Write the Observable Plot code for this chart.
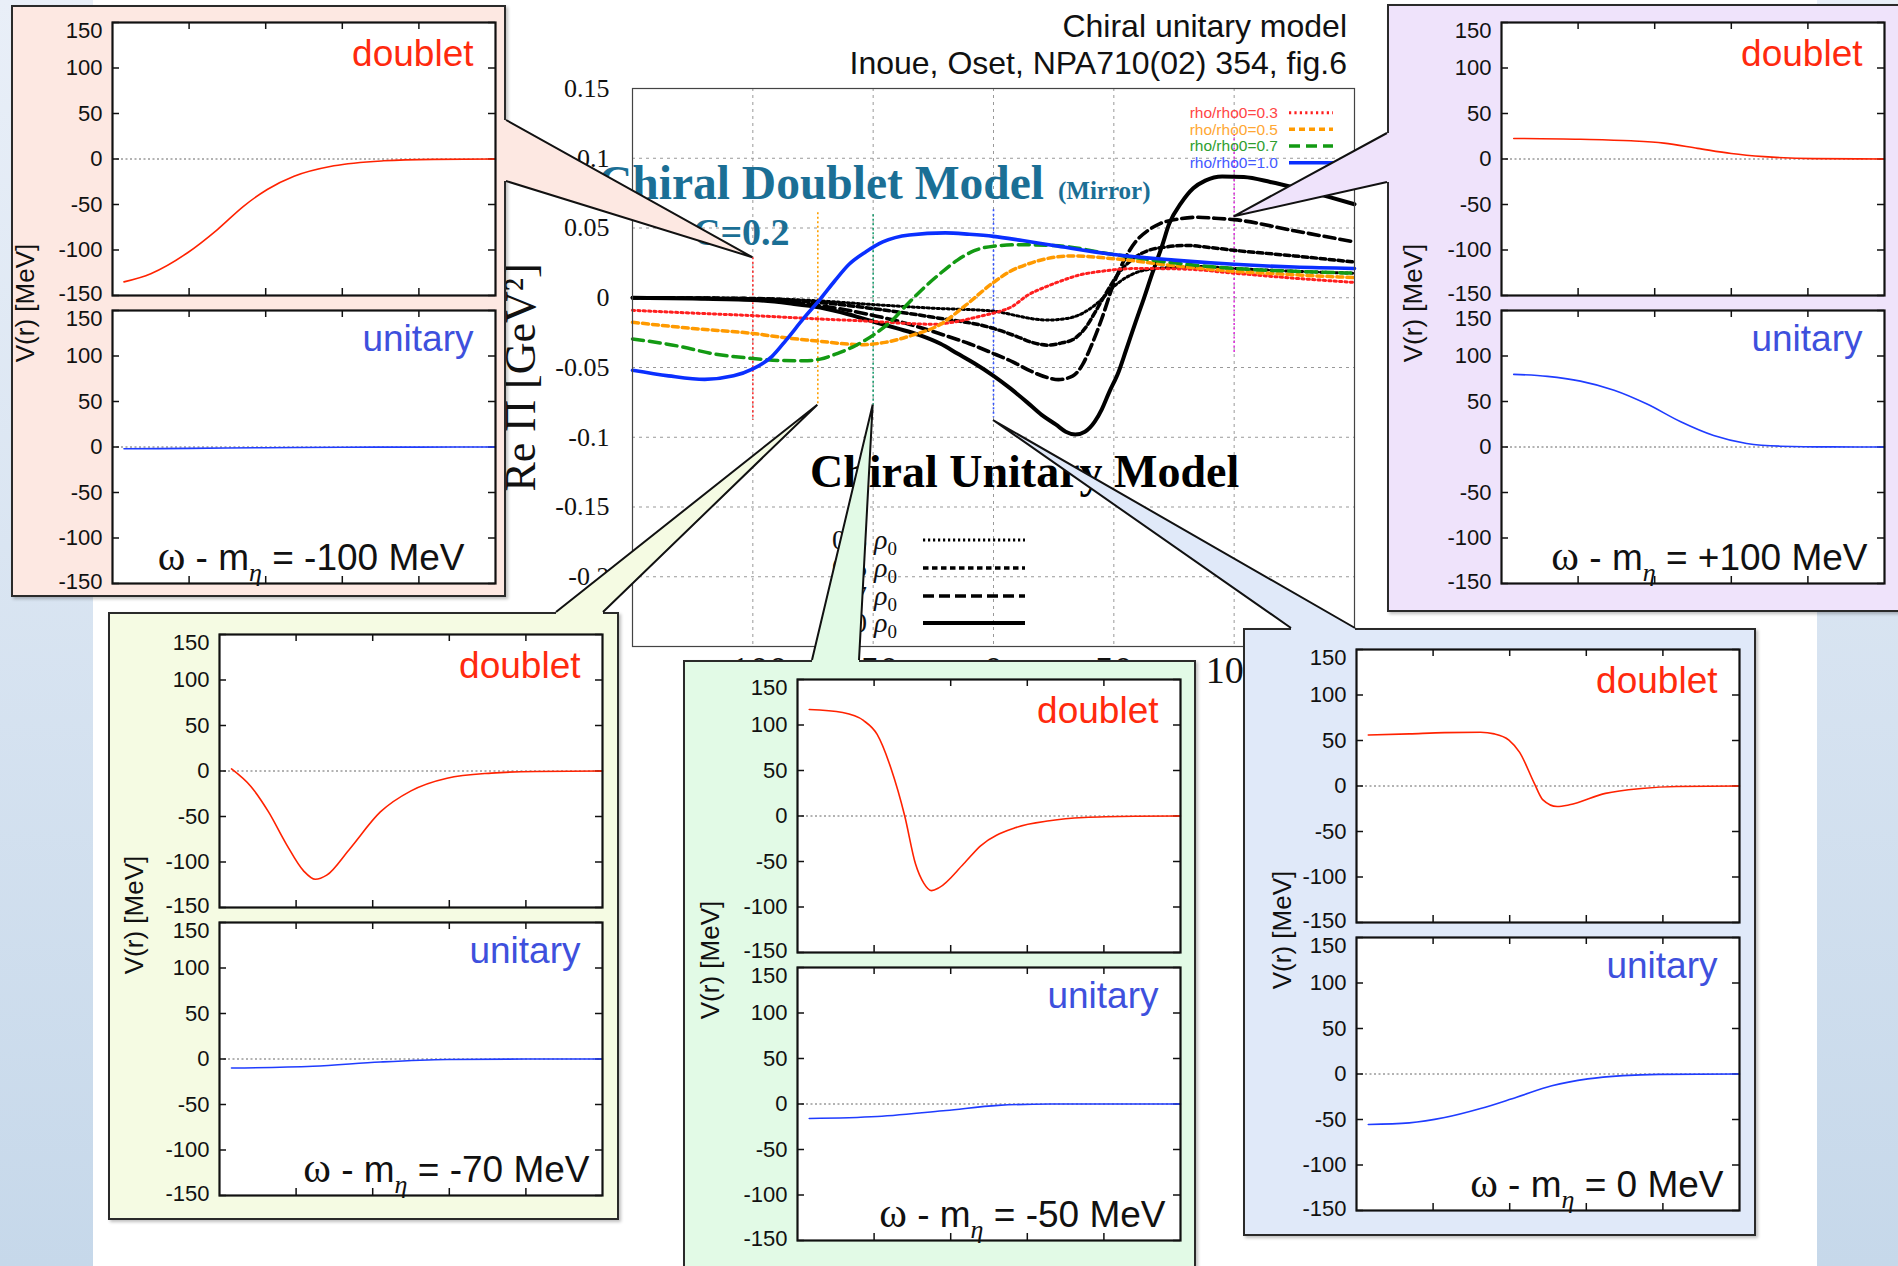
<!DOCTYPE html>
<html><head><meta charset="utf-8">
<script src="https://cdn.jsdelivr.net/npm/d3@7"></script>
<script src="https://cdn.jsdelivr.net/npm/@observablehq/plot@0.6"></script>
<style>
html,body{margin:0;padding:0;width:1898px;height:1266px;overflow:hidden;}
body{background:linear-gradient(#e9eff8,#c6d8ea);position:relative;font-family:"Liberation Sans",Arial,sans-serif;}
.abs{position:absolute;}
</style></head><body>
<script>
// ---------------- main chart data (Re Π vs ω - mη) ----------------
const xTicksMain = [-100, -50, 0, 50, 100];
const yTicksMain = [-0.25, -0.2, -0.15, -0.1, -0.05, 0, 0.05, 0.1, 0.15];
const densityLabels = ["rho/rho0=0.3", "rho/rho0=0.5", "rho/rho0=0.7", "rho/rho0=1.0"];
const densityValues = ["0.3", "0.5", "0.7", "1.0"];

// chiral doublet model (coloured)
const dbl03 = [[-150,-0.009],[-125,-0.011],[-100,-0.0128],[-75,-0.015],[-50,-0.017],[-35,-0.0185],[-25,-0.019],[-15,-0.017],[-5,-0.013],[0,-0.011],[8,-0.006],[14,0.0016],[22,0.008],[28,0.012],[35,0.016],[45,0.019],[60,0.021],[80,0.0205],[100,0.0176],[125,0.014],[150,0.011]];
const dbl05 = [[-150,-0.0176],[-125,-0.022],[-100,-0.0256],[-85,-0.029],[-73,-0.031],[-62,-0.033],[-55,-0.0337],[-45,-0.032],[-34,-0.027],[-22,-0.019],[-12,-0.006],[0,0.011],[7,0.019],[14,0.024],[22,0.028],[33,0.030],[50,0.028],[75,0.023],[100,0.019],[125,0.0165],[150,0.0144]];
const dbl07 = [[-150,-0.0295],[-130,-0.035],[-117,-0.040],[-100,-0.0435],[-88,-0.045],[-79,-0.0452],[-72,-0.044],[-65,-0.040],[-57,-0.034],[-49,-0.0256],[-42,-0.016],[-36,-0.005],[-29,0.007],[-22,0.0176],[-15,0.027],[-8,0.0337],[0,0.037],[11,0.038],[25,0.0375],[50,0.031],[75,0.025],[100,0.021],[125,0.019],[150,0.0176]];
const dbl10 = [[-150,-0.052],[-135,-0.056],[-120,-0.0585],[-108,-0.056],[-100,-0.051],[-92,-0.042],[-86,-0.030],[-79,-0.015],[-72,-0.001],[-66,0.012],[-60,0.024],[-53,0.033],[-46,0.040],[-35,0.045],[-20,0.0465],[-10,0.0455],[0,0.044],[12,0.041],[25,0.0375],[50,0.031],[75,0.027],[100,0.024],[125,0.022],[150,0.021]];
// chiral unitary model (black)
const uni03 = [[-150,0],[-100,-0.0005],[-75,-0.002],[-49,-0.005],[-25,-0.0075],[0,-0.0096],[10,-0.013],[16,-0.015],[22,-0.016],[30,-0.015],[36,-0.012],[40,-0.008],[45,-0.001],[50,0.008],[55,0.0144],[61,0.019],[68,0.021],[77,0.022],[86,0.0224],[100,0.021],[125,0.019],[150,0.0176]];
const uni05 = [[-150,0],[-100,-0.0005],[-75,-0.003],[-49,-0.008],[-25,-0.014],[0,-0.022],[10,-0.028],[16,-0.032],[23,-0.034],[28,-0.0325],[33,-0.030],[38,-0.022],[42,-0.011],[47,0.004],[52,0.0176],[58,0.028],[64,0.0337],[72,0.0365],[80,0.0375],[90,0.036],[100,0.034],[125,0.030],[150,0.0256]];
const uni07 = [[-150,0],[-125,-0.0003],[-100,-0.001],[-75,-0.005],[-49,-0.013],[-35,-0.019],[-22,-0.026],[-10,-0.033],[0,-0.040],[8,-0.046],[16,-0.053],[22,-0.057],[27,-0.0587],[33,-0.056],[37,-0.048],[40,-0.037],[45,-0.015],[49.5,0.008],[54,0.026],[59,0.040],[64,0.048],[69,0.053],[77,0.0565],[85,0.0577],[92,0.057],[100,0.056],[125,0.048],[150,0.040]];
const uni10 = [[-150,0],[-125,-0.0005],[-100,-0.0016],[-85,-0.004],[-72,-0.007],[-60,-0.012],[-49,-0.0176],[-40,-0.022],[-31,-0.0266],[-22,-0.033],[-15,-0.040],[-8,-0.047],[0,-0.056],[7,-0.065],[14,-0.075],[20,-0.084],[26,-0.091],[30,-0.096],[34,-0.098],[38,-0.096],[42,-0.089],[45,-0.080],[48,-0.068],[52,-0.053],[55,-0.038],[59,-0.0176],[62,-0.003],[66,0.0176],[70,0.037],[73,0.053],[78,0.068],[83,0.0785],[88,0.084],[95,0.087],[104,0.0865],[115,0.083],[126,0.0785],[140,0.072],[150,0.067]];

// energies marked on the main chart (vertical dotted lines)
const markerX  = [-100, -73, -50, 0, 100];
const markerY1 = [0.0287, 0.061, 0.0595, 0.063, 0.117];
const markerY2 = [-0.088, -0.077, -0.077, -0.086, -0.040];

// ---------------- potential panels V(r) ----------------
const rTicks = [1, 2, 3, 4];
const vTicks = [-150, -100, -50, 0, 50, 100, 150];
const omegaLabels = ["-100", "+100", "-70", "-50", "0"];

const vDbl_m100 = [[0.15,-135],[0.5,-126],[0.98,-103],[1.37,-77.5],[1.71,-52],[2.02,-33.5],[2.37,-19],[2.89,-7.5],[3.54,-2],[4.19,-0.4],[5,0]];
const vUni_m100 = [[0.15,-2],[1,-1.5],[2,-0.8],[3,-0.3],[4,-0.1],[5,0]];
const vDbl_p100 = [[0.16,22.6],[1.03,21.7],[1.69,20],[2.12,17.4],[2.56,11.7],[3,6],[3.43,2.6],[4.08,0.4],[5,0]];
const vUni_p100 = [[0.16,79.8],[0.6,77.6],[1.03,72.4],[1.47,62.4],[1.9,47.2],[2.34,27.7],[2.77,12.6],[3.2,3.9],[3.64,0.9],[4.3,0.1],[5,0]];
const vDbl_m70 = [[0.157,2.3],[0.41,-17],[0.64,-45],[0.87,-80],[1.1,-110],[1.25,-119],[1.4,-114.5],[1.69,-86.7],[2.1,-45],[2.5,-21.8],[2.97,-7.9],[3.55,-2.3],[4.13,-0.5],[5,0]];
const vUni_m70 = [[0.157,-9.9],[1.22,-8],[2.1,-3.3],[2.97,-0.5],[4,0],[5,0]];
const vDbl_m50 = [[0.153,117],[0.59,113.7],[0.86,105],[1.04,89.6],[1.22,52.5],[1.4,0],[1.54,-52.5],[1.65,-74],[1.75,-82],[1.85,-78.7],[2.17,-52.5],[2.39,-32.8],[2.84,-13],[3.29,-5.2],[3.74,-1.7],[4.4,-0.3],[5,0]];
const vUni_m50 = [[0.153,-16],[1.04,-13.8],[1.94,-7.2],[2.62,-1.5],[3.3,0],[5,0]];
const vDbl_0 = [[0.154,56],[0.69,57.3],[1.15,58.6],[1.62,59],[1.8,57.3],[1.99,50.5],[2.13,37],[2.32,3.2],[2.43,-14.9],[2.62,-22.5],[2.78,-20.7],[3.25,-8.1],[3.72,-2.7],[4.18,-0.5],[5,0]];
const vUni_0 = [[0.154,-55.5],[0.69,-53.7],[1.15,-47.9],[1.62,-38],[2.09,-25.5],[2.55,-13],[3.02,-5.4],[3.48,-1.8],[3.95,-0.4],[5,0]];

// ---------------- styles / layout ----------------
const SERIF = "'Liberation Serif','DejaVu Serif',serif";
const SANS = "'Liberation Sans',Arial,sans-serif";
const dblSeries = [dbl03, dbl05, dbl07, dbl10];
const uniSeries = [uni03, uni05, uni07, uni10];
const dblStyle = [
  {color:"#ff1f1f", text:"#ff4545", dash:"2.2,3.2", width:3},
  {color:"#ff9a00", text:"#ffa733", dash:"6,4", width:3.5},
  {color:"#139a13", text:"#2e9e2e", dash:"11,6", width:3.5},
  {color:"#0a2fff", text:"#4458ff", dash:null, width:3.6}
];
const uniStyle = [
  {dash:"2.2,2.8", width:3},
  {dash:"5.5,3.5", width:3.5},
  {dash:"11,5", width:3.6},
  {dash:null, width:4}
];
const markerColors = ["#ff3030", "#ffa000", "#1a9e70", "#3050ff", "#dd33dd"];

const MAIN_LEFT = 480, MAIN_TOP = 60;
const ns = "http://www.w3.org/2000/svg";
function place(el, left, top) { el.classList.add("abs"); el.style.left = left + "px"; el.style.top = top + "px"; document.body.appendChild(el); return el; }

// white slide area
const white = document.createElement("div");
white.style.cssText = "position:absolute;left:93px;top:0;width:1724px;height:1266px;background:#fff;";
document.body.appendChild(white);

// ---------------- main chart ----------------
const markers = markerX.map((x, i) => ({x, y1: markerY1[i], y2: markerY2[i], color: markerColors[i]}));
const lineMark = (data, s, color) => Plot.line(data, {x: d => d[0], y: d => d[1], stroke: color, strokeWidth: s.width, strokeDasharray: s.dash || undefined, curve: "monotone-x"});

const main = Plot.plot({
  width: 900, height: 650,
  marginLeft: 152, marginRight: 26, marginTop: 28, marginBottom: 64,
  x: {domain: [-150, 150]},
  y: {domain: [-0.25, 0.15]},
  color: {type: "identity"},
  style: {background: "transparent", overflow: "visible", color: "#111"},
  marks: [
    Plot.frame({fill: "white", stroke: "none"}),
    Plot.gridX(xTicksMain, {stroke: "#999", strokeOpacity: 1, strokeDasharray: "3,4", strokeWidth: 1}),
    Plot.gridY(yTicksMain, {stroke: "#999", strokeOpacity: 1, strokeDasharray: "3,4", strokeWidth: 1}),
    Plot.axisX(xTicksMain, {tickSize: 0, tickPadding: 10, tickFormat: d => String(d), fontSize: 38, fontFamily: SERIF, label: null}),
    Plot.axisY(yTicksMain, {tickSize: 0, tickPadding: 23, tickFormat: d => String(d), fontSize: 26, fontFamily: SERIF, label: null}),
    Plot.text(["Re Π [GeV²]"], {frameAnchor: "left", textAnchor: "middle", rotate: -90, dx: -112, dy: 10, fontSize: 44, fontFamily: SERIF, fill: "#111"}),
    Plot.ruleX(markers, {x: "x", y1: "y1", y2: "y2", stroke: "color", strokeWidth: 1.6, strokeDasharray: "2,2.5"}),
    ...uniSeries.map((d, i) => lineMark(d, uniStyle[i], "#000")),
    ...dblSeries.map((d, i) => lineMark(d, dblStyle[i], dblStyle[i].color)),
    Plot.frame({stroke: "#444", strokeWidth: 1.2})
  ]
});
place(main, MAIN_LEFT, MAIN_TOP);

// ---------------- annotation layer ----------------
const ann = d3.select(document.body).append("svg").attr("class", "abs")
  .style("left", "0px").style("top", "0px").attr("width", 1898).attr("height", 1266).style("pointer-events", "none");
ann.append("text").attr("x", 1347).attr("y", 36.6).attr("text-anchor", "end").attr("font-family", SANS).attr("font-size", 32).attr("fill", "#111").text("Chiral unitary model");
ann.append("text").attr("x", 1347).attr("y", 73.7).attr("text-anchor", "end").attr("font-family", SANS).attr("font-size", 32).attr("fill", "#111").text("Inoue, Oset, NPA710(02) 354, fig.6");
const cd = ann.append("text").attr("x", 598).attr("y", 199).attr("font-family", SERIF).attr("font-weight", "bold").attr("font-size", 47.5).attr("fill", "#1b6f95");
cd.append("tspan").text("Chiral Doublet Model");
cd.append("tspan").attr("dx", 14).attr("font-size", 25).text("(Mirror)");
ann.append("text").attr("x", 693).attr("y", 245).attr("font-family", SERIF).attr("font-weight", "bold").attr("font-size", 38).attr("fill", "#1b6f95").text("C=0.2");
ann.append("text").attr("x", 810).attr("y", 487).attr("font-family", SERIF).attr("font-weight", "bold").attr("font-size", 46).attr("fill", "#000").text("Chiral Unitary Model");

// coloured legend (doublet)
const legRows = [112.7, 129.3, 146, 162.7];
densityLabels.forEach((lab, i) => {
  ann.append("text").attr("x", 1278).attr("y", legRows[i]).attr("dy", "0.35em").attr("text-anchor", "end")
    .attr("font-family", SANS).attr("font-size", 15.5).attr("fill", dblStyle[i].text).text(lab);
  ann.append("line").attr("x1", 1289).attr("x2", 1333).attr("y1", legRows[i]).attr("y2", legRows[i])
    .attr("stroke", dblStyle[i].color).attr("stroke-width", dblStyle[i].width).attr("stroke-dasharray", dblStyle[i].dash || null);
});
// black legend (unitary)
const blkRows = [540, 568, 596, 623];
densityValues.forEach((v, i) => {
  const t = ann.append("text").attr("x", 897).attr("y", blkRows[i] + 9).attr("text-anchor", "end")
    .attr("font-family", SERIF).attr("font-size", 28).attr("fill", "#111");
  t.append("tspan").text(v + " ");
  t.append("tspan").attr("font-style", "italic").text("ρ");
  t.append("tspan").attr("font-size", 19).attr("dy", 6).text("0");
  ann.append("line").attr("x1", 923).attr("x2", 1025).attr("y1", blkRows[i]).attr("y2", blkRows[i])
    .attr("stroke", "#000").attr("stroke-width", uniStyle[i].width).attr("stroke-dasharray", uniStyle[i].dash || null);
});

// ---------------- panels ----------------
const FW = 383, FH = 273, GAP = 288, ML = 60, MR = 4, MT = 12, MB = 12;
const panels = [
  {omega: omegaLabels[0], dbl: vDbl_m100, uni: vUni_m100, bg: "#fde8e2", box: [11, 5, 495, 592], fx: 112, fy: 22, labelX: 25, omDx: 31, b1: [506, 120], b2: [506, 181], n: [-1, 0], tip: [-100, 0.0287]},
  {omega: omegaLabels[1], dbl: vDbl_p100, uni: vUni_p100, bg: "#efe3fb", box: [1387, 4, 520, 608], fx: 1501, fy: 22, labelX: 1413, omDx: 17, b1: [1387, 133], b2: [1387, 182], n: [1, 0], tip: [100, 0.058]},
  {omega: omegaLabels[2], dbl: vDbl_m70, uni: vUni_m70, bg: "#f5fbe3", box: [108, 612, 511, 608], fx: 219, fy: 634, labelX: 134, omDx: 13, b1: [556, 612], b2: [603, 612], n: [0, 1], tip: [-73, -0.077]},
  {omega: omegaLabels[3], dbl: vDbl_m50, uni: vUni_m50, bg: "#e2fae6", box: [683, 660, 513, 620], fx: 797, fy: 679, labelX: 710, omDx: 15, b1: [812, 660], b2: [859, 660], n: [0, 1], tip: [-50, -0.077]},
  {omega: omegaLabels[4], dbl: vDbl_0, uni: vUni_0, bg: "#e0e9f9", box: [1243, 628, 513, 608], fx: 1356, fy: 649, labelX: 1282, omDx: 16, b1: [1291, 628], b2: [1355, 628], n: [0, 1], tip: [0, -0.088]}
];

function fixOmega(svg, omega) {
  svg.querySelectorAll("text").forEach(t => {
    if (t.textContent.startsWith("ω")) {
      t.textContent = "";
      const mk = (txt, attrs) => { const s = document.createElementNS(ns, "tspan"); s.textContent = txt; for (const k in attrs) s.setAttribute(k, attrs[k]); t.appendChild(s); };
      mk("ω", {"font-family": SERIF, "font-size": 42});
      mk(" - m", {});
      mk("η", {"font-family": SERIF, "font-style": "italic", "font-size": 26, dy: 11});
      mk(" = " + omega + " MeV", {dy: -11});
    }
  });
}

const vAxisOpts = {tickSize: 0, tickPadding: 10, tickFormat: d => String(d), fontSize: 22, fontFamily: SANS, label: null, fill: "#111"};
function subplot(data, color, label, labelColor, labelDy, omega, omDx) {
  const inner = vTicks.slice(1, -1);
  const marks = [
    Plot.frame({fill: "white", stroke: "none"}),
    Plot.ruleY([0], {stroke: "#666", strokeWidth: 1, strokeDasharray: "2,2.5"}),
    Plot.ruleY(vTicks, {y: d => d, insetRight: FW - 7, stroke: "#111", strokeWidth: 1.5}),
    Plot.ruleY(vTicks, {y: d => d, insetLeft: FW - 7, stroke: "#111", strokeWidth: 1.5}),
    Plot.ruleX(rTicks, {x: d => d, insetTop: FH - 7, stroke: "#111", strokeWidth: 1.5}),
    Plot.ruleX(rTicks, {x: d => d, insetBottom: FH - 7, stroke: "#111", strokeWidth: 1.5}),
    Plot.axisY(inner, vAxisOpts),
    Plot.axisY(vTicks.slice(-1), {...vAxisOpts, dy: 8}),
    Plot.axisY(vTicks.slice(0, 1), {...vAxisOpts, dy: -2}),
    Plot.line(data, {x: d => d[0], y: d => d[1], stroke: color, strokeWidth: 1.6, curve: "monotone-x"}),
    Plot.frame({stroke: "#111", strokeWidth: 2.2}),
    Plot.text([label], {frameAnchor: "top-right", textAnchor: "end", lineAnchor: "top", dx: -22, dy: labelDy, fontSize: 37, fontFamily: SANS, fill: labelColor})
  ];
  if (omega) marks.push(Plot.text(["ω - mη = " + omega + " MeV"], {frameAnchor: "bottom-right", textAnchor: "end", lineAnchor: "bottom", dx: -omDx, dy: -14, fontSize: 37, fontFamily: SANS, fill: "#111"}));
  const p = Plot.plot({
    width: FW + ML + MR, height: FH + MT + MB,
    marginLeft: ML, marginRight: MR, marginTop: MT, marginBottom: MB,
    x: {domain: [0, 5], axis: null},
    y: {domain: [-150, 150]},
    style: {background: "transparent", overflow: "visible", color: "#111"},
    marks
  });
  if (omega) fixOmega(p, omega);
  return p;
}

panels.forEach(P => {
  const box = document.createElement("div");
  box.style.cssText = `position:absolute;left:${P.box[0]}px;top:${P.box[1]}px;width:${P.box[2]}px;height:${P.box[3]}px;background:${P.bg};border:2px solid #2a2a2a;box-sizing:border-box;box-shadow:2px 2px 3px rgba(0,0,0,0.25);`;
  document.body.appendChild(box);
  const lab = document.createElement("div");
  lab.textContent = "V(r) [MeV]";
  lab.style.cssText = `position:absolute;left:${P.labelX}px;top:${P.fy + (GAP + FH) / 2}px;transform:translate(-50%,-50%) rotate(-90deg);font:26px ${SANS};color:#111;white-space:nowrap;`;
  document.body.appendChild(lab);
  place(subplot(P.dbl, "#ff2200", "doublet", "#ff2a0e", 17, null, 0), P.fx - ML, P.fy - MT);
  place(subplot(P.uni, "#1f3cff", "unitary", "#3e50dd", 14, P.omega, P.omDx), P.fx - ML, P.fy + GAP - MT);
});

// ---------------- callouts ----------------
const sx = main.scale("x"), sy = main.scale("y");
const call = d3.select(document.body).append("svg").attr("class", "abs")
  .style("left", "0px").style("top", "0px").attr("width", 1898).attr("height", 1266).style("pointer-events", "none");
panels.forEach(P => {
  const tip = [MAIN_LEFT + sx.apply(P.tip[0]), MAIN_TOP + sy.apply(P.tip[1])];
  const k = 4;
  const i1 = [P.b1[0] + P.n[0] * k, P.b1[1] + P.n[1] * k], i2 = [P.b2[0] + P.n[0] * k, P.b2[1] + P.n[1] * k];
  call.append("polygon").attr("points", [i1, P.b1, tip, P.b2, i2].map(p => p.join(",")).join(" ")).attr("fill", P.bg).attr("stroke", "none");
  call.append("polyline").attr("points", [P.b1, tip, P.b2].map(p => p.join(",")).join(" ")).attr("fill", "none").attr("stroke", "#111").attr("stroke-width", 2).attr("stroke-linejoin", "miter");
});
</script>
</body></html>
